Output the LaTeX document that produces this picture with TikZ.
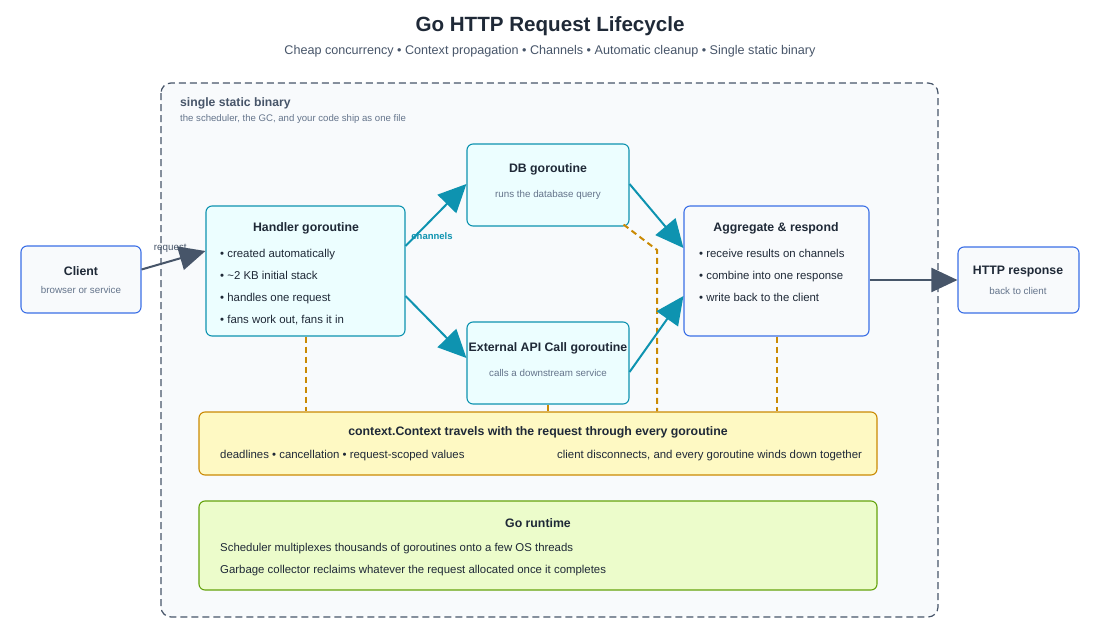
\documentclass[tikz,border=0pt]{standalone}
\usepackage{fontspec}
\setmainfont{Liberation Sans}
\usetikzlibrary{arrows.meta,positioning,calc}
\definecolor{ink}{HTML}{1F2937}
\definecolor{mute}{HTML}{64748B}
\definecolor{slate}{HTML}{475569}
\definecolor{teal}{HTML}{0E93B0}
\definecolor{tealfill}{HTML}{ECFEFF}
\definecolor{blu}{HTML}{3B6FE6}
\definecolor{pale}{HTML}{F8FAFC}
\definecolor{gold}{HTML}{CA8A04}
\definecolor{goldfill}{HTML}{FEF9C3}
\definecolor{lime}{HTML}{65A30D}
\definecolor{limefill}{HTML}{ECFCCB}
\tikzset{
    box/.style={draw, rounded corners=6pt, line width=1.1pt, inner sep=0pt},
    gobox/.style={box, draw=teal, fill=tealfill},
    endbox/.style={box, draw=blu, fill=pale},
    head/.style={font=\bfseries\fontsize{12.3}{14}\selectfont, text=ink},
    sub/.style={font=\fontsize{9.8}{11}\selectfont, text=mute},
    item/.style={font=\fontsize{11.4}{13}\selectfont, text=ink, anchor=west, inner sep=0pt, text height=8.5pt, text depth=2.5pt},
    chan/.style={draw=teal, line width=2pt, -{Triangle[length=28pt,width=26pt]}},
    flow/.style={draw=slate, line width=2pt, -{Triangle[length=26pt,width=24pt]}},
    ctx/.style={draw=gold, line width=2pt, dash pattern=on 6pt off 4pt}
}
\begin{document}
\begin{tikzpicture}[x=1pt,y=-1pt]
                    \useasboundingbox (0,0) rectangle (1100,632);
                    % Title
                    \node[font=\bfseries\fontsize{20.6}{24}\selectfont, text=ink] (title) at (550,26) {Go HTTP Request Lifecycle};
                    \node[font=\fontsize{12.6}{15}\selectfont, text=slate] (subtitle) at (550,51) {Cheap concurrency • Context propagation • Channels • Automatic cleanup • Single static binary};
                    % Binary frame
                    \draw[draw=slate, line width=1.2pt, dash pattern=on 7pt off 4pt, rounded corners=10pt, fill=pale] (161,83) rectangle (938,617);
                    \node[anchor=west, inner sep=0pt, font=\bfseries\fontsize{12.2}{14}\selectfont, text=slate] (binlabel) at (180,103) {single static binary};
                    \node[anchor=west, inner sep=0pt, sub, font=\fontsize{9.6}{11}\selectfont] (binsub) at (180,119) {the scheduler, the GC, and your code ship as one file};
                    % Boxes
                    \node[endbox, minimum width=120pt, minimum height=67pt] (client) at (81,279.5) {};
                    \node[head] at (81,271) {Client};
                    \node[sub] at (81,290) {browser or service};
                    \node[gobox, minimum width=199pt, minimum height=130pt] (hand) at (305.5,271) {};
                    \node[head] at (306,228) {Handler goroutine};
                    \node[item] at (220,254) {• created automatically};
                    \node[item] at (220,276) {• \textasciitilde2 KB initial stack};
                    \node[item] at (220,298) {• handles one request};
                    \node[item] at (220,320) {• fans work out, fans it in};
                    \node[gobox, minimum width=162pt, minimum height=82pt] (db) at (548,185) {};
                    \node[head] at (548,169) {DB goroutine};
                    \node[sub] at (548,195) {runs the database query};
                    \node[gobox, minimum width=162pt, minimum height=82pt] (ext) at (548,363) {};
                    \node[head] at (548,348) {External API Call goroutine};
                    \node[sub] at (548,373) {calls a downstream service};
                    \node[endbox, minimum width=185pt, minimum height=130pt] (agg) at (776.5,271) {};
                    \node[head] at (776,228) {Aggregate \& respond};
                    \node[item] at (699,254) {• receive results on channels};
                    \node[item] at (699,276) {• combine into one response};
                    \node[item] at (699,298) {• write back to the client};
                    \node[endbox, minimum width=121pt, minimum height=66pt] (resp) at (1018.5,280) {};
                    \node[head] at (1018,272) {HTTP response};
                    \node[sub] at (1018,291) {back to client};
                    % Context and runtime
                    \node[box, draw=gold, fill=goldfill, minimum width=678pt, minimum height=63pt] (context) at (538,443.5) {};
                    \node[head] at (538,432) {context.Context travels with the request through every goroutine};
                    \node[item] at (220,455) {deadlines • cancellation • request-scoped values};
                    \node[item] at (557,455) {client disconnects, and every goroutine winds down together};
                    \node[box, draw=lime, fill=limefill, minimum width=678pt, minimum height=89pt] (runtime) at (538,545.5) {};
                    \node[head] at (538,523) {Go runtime};
                    \node[item] at (220,548) {Scheduler multiplexes thousands of goroutines onto a few OS threads};
                    \node[item] at (220,570) {Garbage collector reclaims whatever the request allocated once it completes};
                    % Context links
                    \coordinate (bend) at (657,250);
                    \draw[ctx] (hand.south) -- (hand.south |- context.north);
                    \draw[ctx] (ext.south) -- (ext.south |- context.north);
                    \draw[ctx] ([xshift=-6pt,yshift=2pt]db.south east) -- (bend) -- (bend |- context.north);
                    \draw[ctx] (agg.south) -- (agg.south |- context.north);
                    % Flow
                    \draw[flow] ([yshift=10pt]client.east) -- node[pos=0.45, above=4pt, sub, text=slate] {request} ([yshift=20pt]hand.west);
                    \draw[flow] ([yshift=-9pt]agg.east) -- (resp.west);
                    \draw[chan] ([yshift=25pt]hand.east) -- ([yshift=1pt]db.west);
                    \draw[chan] ([yshift=-25pt]hand.east) -- ([yshift=5pt]ext.west);
                    \draw[chan] ([yshift=1pt]db.east) -- ([yshift=23pt]agg.west);
                    \draw[chan] ([yshift=-9pt]ext.east) -- ([yshift=-25pt]agg.west);
                    \node[font=\bfseries\fontsize{9.5}{11}\selectfont, text=teal] (chanlabel) at (432,236) {channels};
                \end{tikzpicture}
\end{document}
